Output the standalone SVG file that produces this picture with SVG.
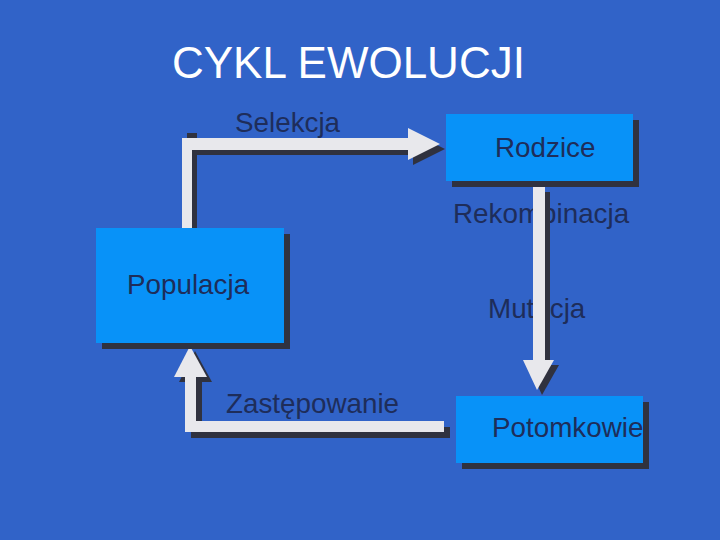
<svg xmlns="http://www.w3.org/2000/svg" width="720" height="540" viewBox="0 0 720 540">
  <style>
    .lbl { font-family: "Liberation Sans", Arial, sans-serif; font-size: 27.8px; fill: #1e2d5a; }
    .title { font-family: "Liberation Sans", Arial, sans-serif; font-size: 44px; fill: #ffffff; }
    .box { fill: #0892f8; }
    .shadow { fill: #30323f; }
    .light { fill: #e8e8ec; }
  </style>
  <rect x="0" y="0" width="720" height="540" fill="#3163c8"/>
  <text class="title" x="172" y="78">CYKL EWOLUCJI</text>

  <g id="connector-labels">
    <text class="lbl" x="235" y="132">Selekcja</text>
    <text class="lbl" x="453" y="223">Rekombinacja</text>
    <text class="lbl" x="488" y="318">Mutacja</text>
    <text class="lbl" x="226" y="413">Zastępowanie</text>
  </g>

  <g id="connectors">
    <g id="edge-selekcja">
      <rect class="shadow" x="187" y="133" width="10" height="95"/>
      <rect class="shadow" x="192" y="145" width="222" height="10"/>
      <polygon class="shadow" points="413,133 445,149 413,165"/>
      <rect class="light" x="182" y="138" width="10" height="90"/>
      <rect class="light" x="182" y="138" width="227" height="12"/>
      <polygon class="light" points="408,128 440,144 408,160"/>
    </g>
    <g id="edge-rekombinacja">
      <rect class="shadow" x="545" y="192" width="5" height="175"/>
      <polygon class="shadow" points="528,365 559,365 542,395"/>
      <rect class="light" x="533" y="187" width="12" height="174"/>
      <polygon class="light" points="523,360 554,360 537,390"/>
    </g>
    <g id="edge-zastepowanie">
      <rect class="shadow" x="196" y="427" width="254" height="11"/>
      <rect class="shadow" x="191" y="380" width="11" height="58"/>
      <polygon class="shadow" points="179,382 212,382 195,351"/>
      <rect class="light" x="190" y="421" width="254" height="11"/>
      <rect class="light" x="185" y="376" width="11" height="56"/>
      <polygon class="light" points="174,377 207,377 190,346"/>
    </g>
  </g>

  <g id="node-rodzice">
    <rect class="shadow" x="452" y="120" width="187" height="67"/>
    <rect class="box" x="446" y="114" width="187" height="67"/>
    <text class="lbl" x="495" y="157">Rodzice</text>
  </g>
  <g id="node-populacja">
    <rect class="shadow" x="102" y="234" width="188" height="115"/>
    <rect class="box" x="96" y="228" width="188" height="115"/>
    <text class="lbl" x="127" y="294">Populacja</text>
  </g>
  <g id="node-potomkowie">
    <rect class="shadow" x="462" y="402" width="187" height="67"/>
    <rect class="box" x="456" y="396" width="187" height="67"/>
    <text class="lbl" x="492" y="437">Potomkowie</text>
  </g>
</svg>
